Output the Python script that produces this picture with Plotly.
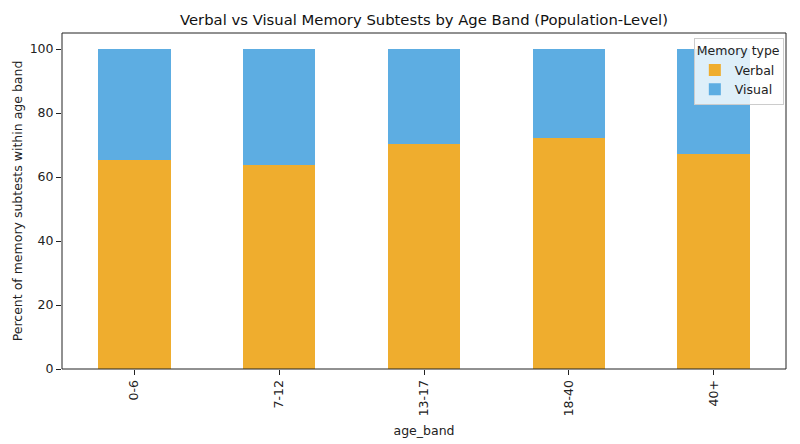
import plotly.graph_objects as go

age_bands = ["0-6", "7-12", "13-17", "18-40", "40+"]
verbal = [65.3, 63.9, 70.4, 72.1, 67.2]
visual = [round(100 - v, 1) for v in verbal]

verbal_color = "#EFAD2E"
visual_color = "#5DADE2"

fig = go.Figure()
fig.add_trace(go.Bar(x=age_bands, y=verbal, name="Verbal", marker=dict(color=verbal_color, line=dict(width=0)), width=0.5))
fig.add_trace(go.Bar(x=age_bands, y=visual, name="Visual", marker=dict(color=visual_color, line=dict(width=0)), width=0.5))

font = "DejaVu Sans, sans-serif"
fs = 12.5
fig.update_layout(
    barmode="stack",
    width=800, height=444,
    margin=dict(l=62, r=14, t=33, b=75, autoexpand=False),
    paper_bgcolor="white", plot_bgcolor="white",
    font=dict(family=font, size=fs, color="#222"),
    title=dict(text="Verbal vs Visual Memory Subtests by Age Band (Population-Level)",
               x=0.5, xref="paper", xanchor="center", y=1 - 20 / 444, yref="container", yanchor="middle",
               font=dict(size=14.8, color="#111")),
    legend=dict(title=dict(text="Memory type", side="top", font=dict(size=fs)), traceorder="normal",
                x=0.997, xanchor="right", y=0.985, yanchor="top",
                bgcolor="rgba(255,255,255,0.8)", bordercolor="#cccccc", borderwidth=1,
                font=dict(size=fs), itemsizing="constant"),
    bargap=0.5,
)
fig.update_xaxes(range=[-0.5, 4.5], showline=False, automargin=False,
                 ticks="outside", ticklen=5, tickcolor="#222", tickangle=-90,
                 tickfont=dict(size=fs),
                 title=dict(text="age_band", standoff=10, font=dict(size=fs)), showgrid=False)
fig.update_yaxes(range=[0, 105], showline=False, automargin=False,
                 ticks="outside", ticklen=5, tickcolor="#222", tickvals=[0, 20, 40, 60, 80, 100],
                 tickfont=dict(size=fs),
                 title=dict(text="Percent of memory subtests within age band", standoff=4, font=dict(size=fs)),
                 showgrid=False, zeroline=False)
fig.add_shape(type="rect", xref="x domain", yref="y domain", x0=0, x1=1, y0=0, y1=1,
              line=dict(color="#222", width=1), fillcolor="rgba(0,0,0,0)", layer="above")

fig.write_html("out.html", config={"displayModeBar": False},
               post_script="document.body.style.margin='0px';")
